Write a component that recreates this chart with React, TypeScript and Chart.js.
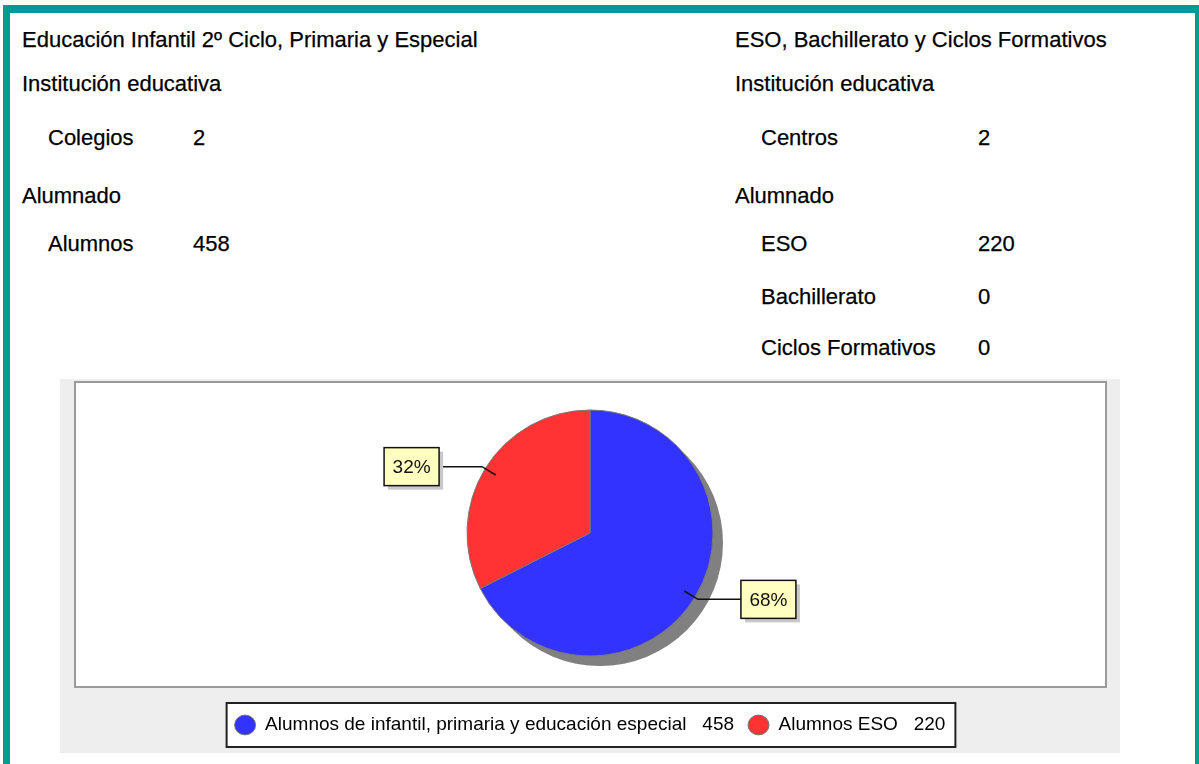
import React, { useEffect, useRef } from "react";
import { Chart, registerables } from "chart.js";

Chart.register(...registerables);

const FONT = "'Liberation Sans', Arial, Helvetica, sans-serif";

// ---- Text content ----
const leftTitle = "Educación Infantil 2º Ciclo, Primaria y Especial";
const rightTitle = "ESO, Bachillerato y Ciclos Formativos";
const sectionInstitution = "Institución educativa";
const sectionStudents = "Alumnado";
const leftInstitutionLabels = ["Colegios"];
const leftInstitutionValues = [2];
const rightInstitutionLabels = ["Centros"];
const rightInstitutionValues = [2];
const leftStudentLabels = ["Alumnos"];
const leftStudentValues = [458];
const rightStudentLabels = ["ESO", "Bachillerato", "Ciclos Formativos"];
const rightStudentValues = [220, 0, 0];

// ---- Chart data ----
const pieLabels = ["Alumnos de infantil, primaria y educación especial", "Alumnos ESO"];
const pieValues = [458, 220];
const pieColors = ["#3333FF", "#FF3333"];

const CANVAS_W = 1060;
const CANVAS_H = 393;

const panelPlugin = {
  id: "panelBackground",
  beforeDraw(chart: any) {
    const ctx = chart.ctx;
    ctx.save();
    // gray panel
    ctx.fillStyle = "#EEEEEE";
    ctx.fillRect(0, 19, CANVAS_W, CANVAS_H - 19);
    // white plot box
    ctx.fillStyle = "#FFFFFF";
    ctx.fillRect(14, 21, 1033, 307);
    ctx.strokeStyle = "#9A9A9A";
    ctx.lineWidth = 2;
    ctx.strokeRect(15, 22, 1031, 305);
    // legend box
    const lg = chart.legend;
    if (lg && lg.legendHitBoxes && lg.legendHitBoxes.length) {
      const hb = lg.legendHitBoxes;
      const first = hb[0];
      const last = hb[hb.length - 1];
      const cy = first.top + first.height / 2;
      const left = first.left - 8;
      const right = last.left + last.width + 10;
      const top = cy - 22;
      const bottom = cy + 22;
      ctx.fillStyle = "#FFFFFF";
      ctx.fillRect(left, top, right - left, bottom - top);
      ctx.strokeStyle = "#222222";
      ctx.lineWidth = 2;
      ctx.strokeRect(left, top, right - left, bottom - top);
    }
    ctx.restore();
  },
};

const shadowPlugin = {
  id: "pieShadow",
  beforeDatasetsDraw(chart: any) {
    const meta = chart.getDatasetMeta(0);
    const arc = meta.data[0];
    if (!arc) return;
    const ctx = chart.ctx;
    ctx.save();
    ctx.fillStyle = "#808080";
    ctx.beginPath();
    ctx.arc(arc.x + 10, arc.y + 10, arc.outerRadius, 0, Math.PI * 2);
    ctx.fill();
    ctx.restore();
  },
};

const calloutPlugin = {
  id: "pieCallouts",
  afterDatasetsDraw(chart: any) {
    const meta = chart.getDatasetMeta(0);
    const ctx = chart.ctx;
    const data = chart.data.datasets[0].data as number[];
    const total = data.reduce((a, b) => a + b, 0);
    ctx.save();
    meta.data.forEach((arc: any, i: number) => {
      const mid = (arc.startAngle + arc.endAngle) / 2;
      const r = arc.outerRadius;
      const cos = Math.cos(mid);
      const sin = Math.sin(mid);
      const sx = arc.x + cos * r * 0.9;
      const sy = arc.y + sin * r * 0.9;
      const ex = arc.x + cos * r * 1.03;
      const ey = arc.y + sin * r * 1.03;
      const dir = cos >= 0 ? 1 : -1;
      const hx = ex + dir * 43;
      ctx.strokeStyle = "#111111";
      ctx.lineWidth = 1.5;
      ctx.beginPath();
      ctx.moveTo(sx, sy);
      ctx.lineTo(ex, ey);
      ctx.lineTo(hx, ey);
      ctx.stroke();
      const bw = 55;
      const bh = 38;
      const bx = dir > 0 ? hx : hx - bw;
      const by = ey - bh / 2;
      // shadow
      ctx.fillStyle = "#C8C8C8";
      ctx.fillRect(bx + 4, by + 4, bw, bh);
      ctx.fillStyle = "#FFFFC0";
      ctx.fillRect(bx, by, bw, bh);
      ctx.strokeStyle = "#111111";
      ctx.lineWidth = 1.5;
      ctx.strokeRect(bx, by, bw, bh);
      const pct = Math.round((data[i] / total) * 100) + "%";
      ctx.fillStyle = "#111111";
      ctx.font = `19px ${FONT}`;
      ctx.textAlign = "center";
      ctx.textBaseline = "middle";
      ctx.fillText(pct, bx + bw / 2, by + bh / 2 + 1);
    });
    ctx.restore();
  },
};

function PieChart() {
  const ref = useRef<HTMLCanvasElement | null>(null);
  useEffect(() => {
    if (!ref.current) return;
    const chart = new Chart(ref.current, {
      type: "pie",
      data: {
        labels: pieLabels,
        datasets: [
          {
            data: pieValues,
            backgroundColor: pieColors,
            borderColor: "#7A7A7A",
            borderWidth: 1,
          },
        ],
      },
      options: {
        responsive: false,
        animation: false,
        radius: 123,
        layout: { padding: { top: 4.5, bottom: 8.5, left: 0, right: 0 } },
        plugins: {
          tooltip: { enabled: false },
          legend: {
            display: true,
            position: "bottom",
            labels: {
              usePointStyle: true,
              pointStyleWidth: 21,
              boxHeight: 14,
              padding: 14,
              color: "#000000",
              font: { family: FONT, size: 19 },
              generateLabels: () =>
                pieLabels.map((l, i) => ({
                  text: `${l}   ${pieValues[i]}`,
                  fillStyle: pieColors[i],
                  strokeStyle: "#777777",
                  lineWidth: 1,
                  pointStyle: "circle",
                  hidden: false,
                  index: i,
                  fontColor: "#000000",
                })),
            },
          },
        },
      } as any,
      plugins: [panelPlugin, shadowPlugin, calloutPlugin],
    });
    return () => chart.destroy();
  }, []);
  return (
    <canvas
      ref={ref}
      width={CANVAS_W}
      height={CANVAS_H}
      style={{ position: "absolute", left: 60, top: 360, width: CANVAS_W, height: CANVAS_H, display: "block" }}
    />
  );
}

function T({ x, y, children }: { x: number; y: number; children: React.ReactNode }) {
  return (
    <div
      style={{
        position: "absolute",
        left: x,
        top: y,
        fontSize: 22,
        lineHeight: "22px",
        whiteSpace: "nowrap",
        color: "#000000",
        WebkitTextStroke: "0.25px #000000",
      }}
    >
      {children}
    </div>
  );
}

export default function App() {
  const rowY = [233, 286, 337];
  return (
    <div
      style={{
        position: "fixed",
        left: 0,
        top: 0,
        width: 1199,
        height: 764,
        overflow: "hidden",
        background: "#FFFFFF",
        fontFamily: FONT,
      }}
    >
      <div
        style={{
          position: "absolute",
          left: 3,
          top: 5,
          width: 1199,
          height: 820,
          boxSizing: "border-box",
          borderStyle: "solid",
          borderColor: "#009A96",
          borderWidth: "8px 7px 7px 7px",
        }}
      />
      <T x={22} y={29}>{leftTitle}</T>
      <T x={735} y={29}>{rightTitle}</T>
      <T x={22} y={73}>{sectionInstitution}</T>
      <T x={735} y={73}>{sectionInstitution}</T>
      {leftInstitutionLabels.map((l, i) => (
        <React.Fragment key={"li" + i}>
          <T x={48} y={127}>{l}</T>
          <T x={193} y={127}>{leftInstitutionValues[i]}</T>
        </React.Fragment>
      ))}
      {rightInstitutionLabels.map((l, i) => (
        <React.Fragment key={"ri" + i}>
          <T x={761} y={127}>{l}</T>
          <T x={978} y={127}>{rightInstitutionValues[i]}</T>
        </React.Fragment>
      ))}
      <T x={22} y={185}>{sectionStudents}</T>
      <T x={735} y={185}>{sectionStudents}</T>
      {leftStudentLabels.map((l, i) => (
        <React.Fragment key={"ls" + i}>
          <T x={48} y={rowY[i]}>{l}</T>
          <T x={193} y={rowY[i]}>{leftStudentValues[i]}</T>
        </React.Fragment>
      ))}
      {rightStudentLabels.map((l, i) => (
        <React.Fragment key={"rs" + i}>
          <T x={761} y={rowY[i]}>{l}</T>
          <T x={978} y={rowY[i]}>{rightStudentValues[i]}</T>
        </React.Fragment>
      ))}
      <PieChart />
    </div>
  );
}
